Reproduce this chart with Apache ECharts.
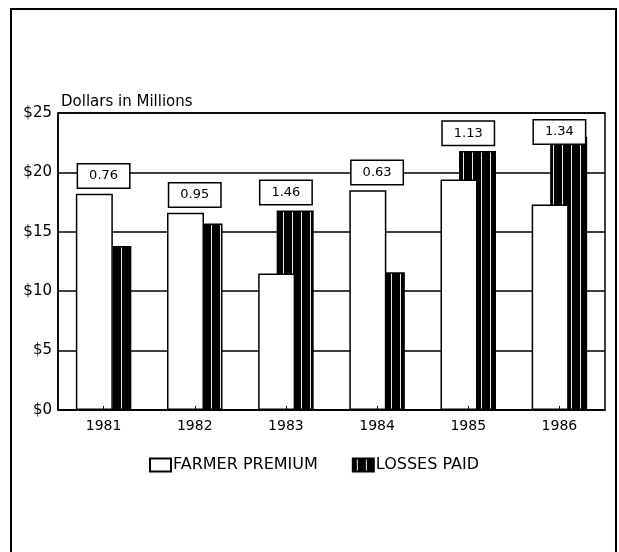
<!DOCTYPE html>
<html>
<head>
<meta charset="utf-8">
<script src="https://cdn.jsdelivr.net/npm/echarts@6/dist/echarts.min.js"></script>
<style>html,body{margin:0;padding:0;background:#fff;}#c{width:619px;height:552px;}</style>
</head>
<body>
<div id="c"></div>
<script>
var years = ['1981', '1982', '1983', '1984', '1985', '1986'];
var farmerPremium = [18.2, 16.6, 11.5, 18.5, 19.4, 17.3];
var lossesPaid = [13.8, 15.7, 16.8, 11.6, 21.8, 23.0];
var lossRatios = ['0.76', '0.95', '1.46', '0.63', '1.13', '1.34'];
var yTicks = [0, 5, 10, 15, 20, 25];

var FONT = 'DejaVu Sans';

// striped fill for losses bars
var pc = document.createElement('canvas');
pc.width = 9; pc.height = 10;
var pctx = pc.getContext('2d');
pctx.fillStyle = '#000'; pctx.fillRect(0, 0, 9, 10);
pctx.fillStyle = '#e8e8e8'; pctx.fillRect(4, 0, 1, 10);

var boxData = years.map(function (y, i) {
  var top = Math.max(farmerPremium[i], lossesPaid[i]);
  return [i, Math.min(top + 1.5, 23.4)];
});

var chart = echarts.init(document.getElementById('c'));
chart.setOption({
  animation: false,
  backgroundColor: '#fff',
  title: {
    text: 'Dollars in Millions',
    left: 56, top: 90,
    textStyle: { fontFamily: FONT, fontSize: 15, fontWeight: 'normal', color: '#000' }
  },
  legend: {
    left: 144, top: 452,
    icon: 'rect',
    itemWidth: 21, itemHeight: 13, itemGap: 34,
    textStyle: { fontFamily: FONT, fontSize: 16, color: '#000', padding: [0, 0, 0, -3] },
    data: ['FARMER PREMIUM', 'LOSSES PAID']
  },
  grid: {
    left: 58, right: 14, top: 113, bottom: 142,
    show: true, borderColor: '#000', borderWidth: 1.5, backgroundColor: 'transparent'
  },
  xAxis: {
    type: 'category',
    data: years,
    z: 10,
    axisLine: { lineStyle: { color: '#000', width: 1.5 } },
    axisTick: { show: true, inside: true, alignWithLabel: true, length: 4, lineStyle: { color: '#000' } },
    axisLabel: { fontFamily: FONT, fontSize: 14, color: '#000', margin: 9 }
  },
  yAxis: {
    type: 'value',
    min: yTicks[0], max: yTicks[yTicks.length - 1], interval: 5,
    axisLine: { show: true, lineStyle: { color: '#000', width: 1.5 } },
    axisTick: { show: false },
    splitLine: { lineStyle: { color: '#000', width: 1.5 } },
    axisLabel: { fontFamily: FONT, fontSize: 15, color: '#000', margin: 6,
      formatter: function (v) { return '$' + v; } }
  },
  series: [
    {
      name: 'FARMER PREMIUM', type: 'bar', data: farmerPremium,
      barWidth: 37, barGap: '-50%', z: 4,
      itemStyle: { color: '#fff', borderColor: '#000', borderWidth: 1.5 }
    },
    {
      name: 'LOSSES PAID', type: 'bar', data: lossesPaid,
      barWidth: 37, z: 3,
      itemStyle: { color: { image: pc, repeat: 'repeat' }, borderColor: '#000', borderWidth: 1.5 }
    },
    {
      name: 'ratio', type: 'scatter', data: boxData, symbolSize: 0, z: 5,
      itemStyle: { opacity: 1 },
      label: {
        show: true, position: 'inside',
        formatter: function (p) { return lossRatios[p.dataIndex]; },
        fontFamily: FONT, fontSize: 13, color: '#000', opacity: 1,
        textBorderWidth: 0,
        backgroundColor: '#fff', borderColor: '#000', borderWidth: 1.5, borderRadius: 0,
        padding: [5, 11]
      }
    }
  ],
  graphic: [{
    type: 'rect', shape: { x: 11, y: 9, width: 605, height: 600 },
    style: { fill: 'none', stroke: '#000', lineWidth: 2 }, silent: true
  }]
});
</script>
</body>
</html>
